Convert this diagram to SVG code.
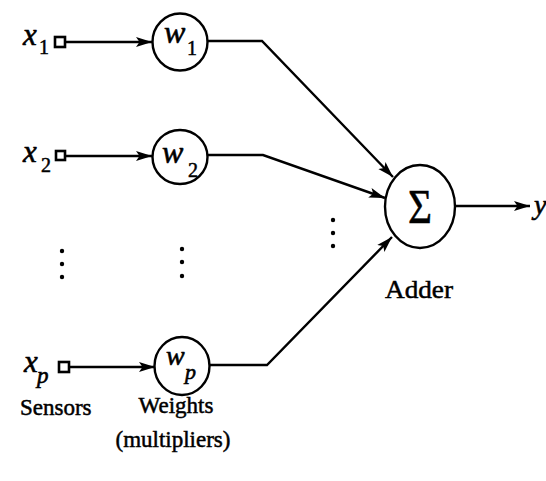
<svg xmlns="http://www.w3.org/2000/svg" width="546" height="481" viewBox="0 0 546 481">
  <style>
    .wire { fill: none; stroke: #000; stroke-width: 2.4; stroke-linejoin: miter; }
    .node { fill: #fff; stroke: #000; stroke-width: 2.4; }
    .sensor { fill: #fff; stroke: #000; stroke-width: 2.6; }
    .dot { fill: #000; }
    .sym { font-family: "Liberation Serif", "Times New Roman", serif; font-style: italic; fill: #000; stroke: #000; stroke-width: 0.6; }
    .lbl { font-family: "Liberation Serif", "Times New Roman", serif; fill: #000; stroke: #000; stroke-width: 0.5; }
  </style>
  <defs>
    <marker id="arrow" markerUnits="userSpaceOnUse" markerWidth="16" markerHeight="12" refX="16" refY="6" orient="auto">
      <path d="M0,1 L16,6 L0,11 L3.5,6 Z" fill="#000"/>
    </marker>
  </defs>

  <rect width="546" height="481" fill="#fff"/>

  <!-- connectors -->
  <g id="connectors">
    <line class="wire" x1="65" y1="42" x2="152" y2="42" marker-end="url(#arrow)"/>
    <line class="wire" x1="65" y1="156" x2="152" y2="156" marker-end="url(#arrow)"/>
    <line class="wire" x1="69" y1="367" x2="155" y2="367" marker-end="url(#arrow)"/>
    <polyline class="wire" points="207,41 262,41 393,177" marker-end="url(#arrow)"/>
    <polyline class="wire" points="207,155 263,155 385,198" marker-end="url(#arrow)"/>
    <polyline class="wire" points="209,365 267,365 392,237" marker-end="url(#arrow)"/>
    <line class="wire" x1="455" y1="206" x2="530" y2="206" marker-end="url(#arrow)"/>
  </g>

  <!-- sensors -->
  <g id="sensor-1">
    <rect class="sensor" x="55" y="37" width="10" height="10"/>
    <text class="sym" x="23" y="45" font-size="31">x</text>
    <text class="lbl" x="39" y="54" font-size="20">1</text>
  </g>
  <g id="sensor-2">
    <rect class="sensor" x="56" y="151" width="9" height="9"/>
    <text class="sym" x="23" y="162" font-size="31">x</text>
    <text class="lbl" x="41" y="172" font-size="20">2</text>
  </g>
  <g id="sensor-p">
    <rect class="sensor" x="59" y="362" width="10" height="10"/>
    <text class="sym" x="24" y="372" font-size="31">x</text>
    <text class="sym" x="37" y="383" font-size="23">p</text>
  </g>

  <!-- weights -->
  <g id="weight-1">
    <ellipse class="node" cx="180" cy="42" rx="27.5" ry="28.5"/>
    <text class="sym" x="164" y="43" font-size="32">w</text>
    <text class="lbl" x="187" y="55" font-size="20">1</text>
  </g>
  <g id="weight-2">
    <ellipse class="node" cx="180" cy="157" rx="27.5" ry="27"/>
    <text class="sym" x="162" y="163" font-size="32">w</text>
    <text class="lbl" x="188" y="177" font-size="20">2</text>
  </g>
  <g id="weight-p">
    <ellipse class="node" cx="182" cy="366" rx="27.5" ry="29"/>
    <text class="sym" x="166" y="365" font-size="28">w</text>
    <text class="sym" x="185" y="379" font-size="22">p</text>
  </g>

  <!-- adder -->
  <g id="adder">
    <ellipse class="node" cx="420" cy="206.5" rx="35" ry="41.5"/>
    <text class="lbl" x="408" y="223" font-size="48" textLength="24" lengthAdjust="spacingAndGlyphs">Σ</text>
    <text class="lbl" x="385" y="298" font-size="26" textLength="68" lengthAdjust="spacingAndGlyphs">Adder</text>
  </g>

  <!-- output -->
  <g id="output">
    <text class="sym" x="534" y="214" font-size="28">y</text>
  </g>

  <!-- ellipsis dots -->
  <g id="ellipses">
    <circle class="dot" cx="62" cy="251" r="2.2"/>
    <circle class="dot" cx="62" cy="264" r="2.2"/>
    <circle class="dot" cx="62" cy="277" r="2.2"/>
    <circle class="dot" cx="182" cy="249" r="2.2"/>
    <circle class="dot" cx="182" cy="262" r="2.2"/>
    <circle class="dot" cx="182" cy="276" r="2.2"/>
    <circle class="dot" cx="333" cy="220" r="2.2"/>
    <circle class="dot" cx="333" cy="233" r="2.2"/>
    <circle class="dot" cx="333" cy="246" r="2.2"/>
  </g>

  <!-- column captions -->
  <g id="captions">
    <text class="lbl" x="20" y="415" font-size="23">Sensors</text>
    <text class="lbl" x="176" y="413" font-size="23" text-anchor="middle">Weights</text>
    <text class="lbl" x="173" y="447" font-size="23" text-anchor="middle">(multipliers)</text>
  </g>
</svg>
